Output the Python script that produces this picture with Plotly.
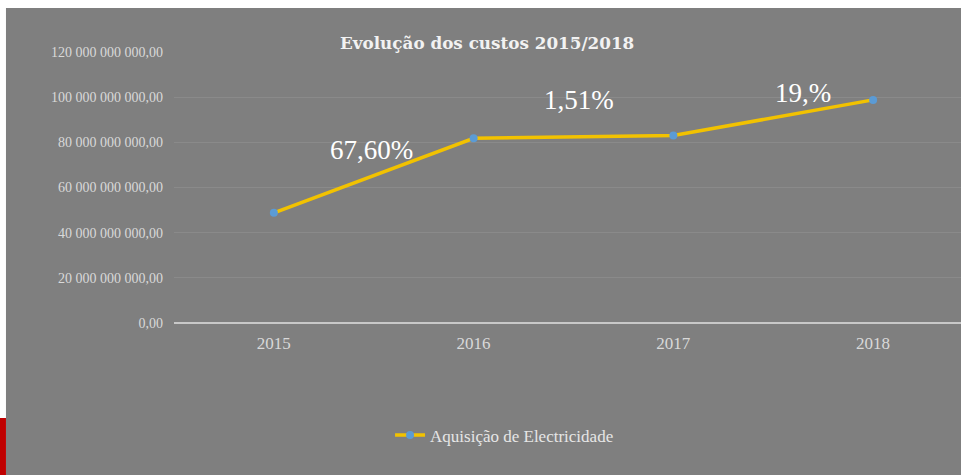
import plotly.graph_objects as go

years = ["2015", "2016", "2017", "2018"]
costs = [48.8e9, 81.8e9, 83.0e9, 98.8e9]
series_name = "Aquisição de Electricidade"
growth_labels = ["67,60%", "1,51%", "19,%"]
growth_label_x = [0.49, 1.53, 2.65]
growth_label_y = [76.7e9, 98.9e9, 102e9]
y_ticks = [0, 20e9, 40e9, 60e9, 80e9, 100e9, 120e9]

BG = "#7f7f7f"
SERIF = "Liberation Serif"

fig = go.Figure()
fig.add_trace(go.Scatter(
    x=list(range(len(years))), y=costs, mode="lines+markers", name=series_name,
    line=dict(color="#f2c200", width=3.5),
    marker=dict(color="#5b9bd5", size=8, line=dict(width=0)),
))

for t, x, y in zip(growth_labels, growth_label_x, growth_label_y):
    fig.add_annotation(x=x, y=y, xref="x", yref="y", text=t, showarrow=False,
                       font=dict(family=SERIF, size=27, color="#ffffff"))

fig.add_annotation(x=0.398, y=1.033, xref="paper", yref="paper", text="<b>Evolução dos custos 2015/2018</b>",
                   showarrow=False, xanchor="center", yanchor="middle",
                   font=dict(family="DejaVu Serif", size=16.8, color="#f2f2f2"))

# white strips and red corner of the original slide crop
fig.add_shape(type="rect", xref="paper", yref="paper", x0=-0.25, x1=1.05, y0=1.162, y1=1.25,
              fillcolor="#ffffff", line=dict(width=0), layer="below")
fig.add_shape(type="rect", xref="paper", yref="paper", x0=-0.25, x1=-0.2135, y0=-0.6, y1=1.25,
              fillcolor="#ffffff", line=dict(width=0), layer="below")
fig.add_shape(type="rect", xref="paper", yref="paper", x0=-0.25, x1=-0.2135, y0=-0.6, y1=-0.3506,
              fillcolor="#c00000", line=dict(width=0), layer="below")

fig.update_layout(
    width=961, height=475,
    margin=dict(l=174, r=0, t=52, b=152),
    paper_bgcolor=BG, plot_bgcolor=BG,
    separators=", ",
    showlegend=True,
    legend=dict(orientation="h", x=0.42, y=-0.415, xanchor="center", yanchor="middle",
                font=dict(family=SERIF, size=17, color="#e6e6e6"), bgcolor="rgba(0,0,0,0)",
                itemwidth=30),
    xaxis=dict(
        tickmode="array", tickvals=list(range(len(years))), ticktext=years,
        range=[-0.5, 3.44], showgrid=False, zeroline=False, showline=False,
        tickfont=dict(family=SERIF, size=17, color="#d9d9d9"), ticks="", ticklabelstandoff=8,
    ),
    yaxis=dict(
        range=[0, 120e9], tickvals=y_ticks, tickformat=",.2f",
        showgrid=True, gridcolor="#8a8a8a", gridwidth=1,
        zeroline=True, zerolinecolor="#c8c8c8", zerolinewidth=2,
        tickfont=dict(family=SERIF, size=14, color="#d9d9d9"), ticks="", ticklabelstandoff=10,
    ),
)

fig.write_html("out.html", config={"displayModeBar": False},
               post_script="document.body.style.margin='0';document.body.style.overflow='hidden';")
